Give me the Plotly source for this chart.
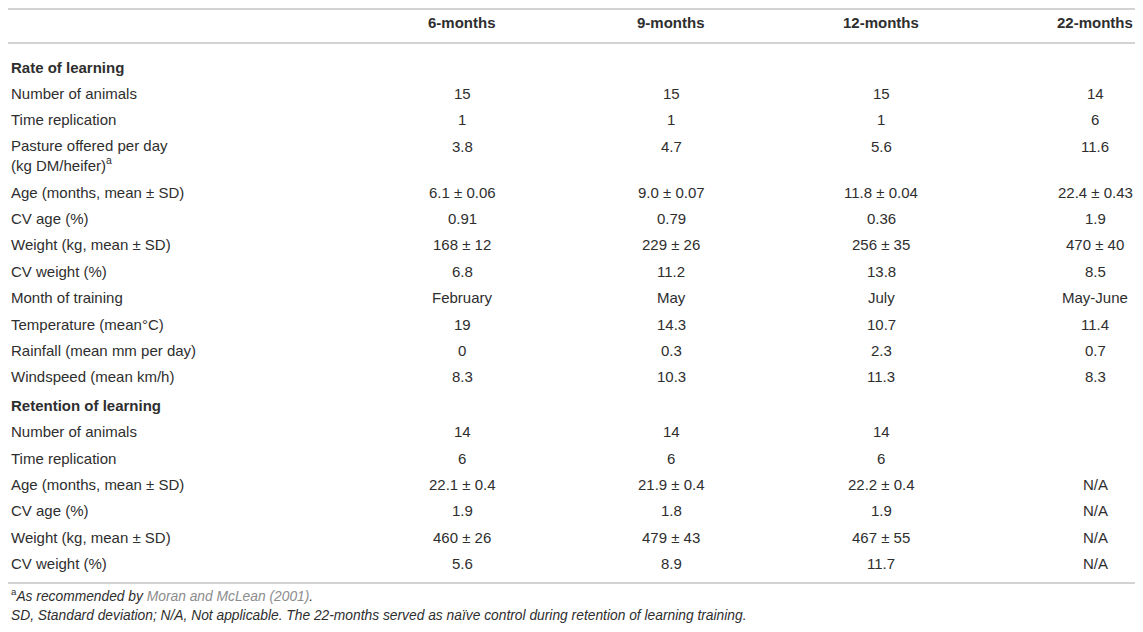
import plotly.graph_objects as go

W, H = 1143, 632
PAGE_MARGIN = 8  # default body margin of the html page

# ---- table data ----
columns = ["6-months", "9-months", "12-months", "22-months"]

rate_labels = [
    "Number of animals",
    "Time replication",
    "Pasture offered per day<br>(kg DM/heifer)<sup>a</sup>",
    "Age (months, mean ± SD)",
    "CV age (%)",
    "Weight (kg, mean ± SD)",
    "CV weight (%)",
    "Month of training",
    "Temperature (mean°C)",
    "Rainfall (mean mm per day)",
    "Windspeed (mean km/h)",
]
rate_6m = ["15", "1", "3.8", "6.1 ± 0.06", "0.91", "168 ± 12", "6.8", "February", "19", "0", "8.3"]
rate_9m = ["15", "1", "4.7", "9.0 ± 0.07", "0.79", "229 ± 26", "11.2", "May", "14.3", "0.3", "10.3"]
rate_12m = ["15", "1", "5.6", "11.8 ± 0.04", "0.36", "256 ± 35", "13.8", "July", "10.7", "2.3", "11.3"]
rate_22m = ["14", "6", "11.6", "22.4 ± 0.43", "1.9", "470 ± 40", "8.5", "May-June", "11.4", "0.7", "8.3"]

retention_labels = [
    "Number of animals",
    "Time replication",
    "Age (months, mean ± SD)",
    "CV age (%)",
    "Weight (kg, mean ± SD)",
    "CV weight (%)",
]
ret_6m = ["14", "6", "22.1 ± 0.4", "1.9", "460 ± 26", "5.6"]
ret_9m = ["14", "6", "21.9 ± 0.4", "1.8", "479 ± 43", "8.9"]
ret_12m = ["14", "6", "22.2 ± 0.4", "1.9", "467 ± 55", "11.7"]
ret_22m = ["", "", "N/A", "N/A", "N/A", "N/A"]

sections = [
    ("Rate of learning", rate_labels, [rate_6m, rate_9m, rate_12m, rate_22m]),
    ("Retention of learning", retention_labels, [ret_6m, ret_9m, ret_12m, ret_22m]),
]

footnote_a = ("<sup>a</sup><i>As recommended by "
              "<span style='color:#8c8c8c'>Moran and McLean (2001)</span>.</i>")
footnote_b = ("<i>SD, Standard deviation; N/A, Not applicable. The 22-months served "
              "as naïve control during retention of learning training.</i>")

# ---- layout constants (page pixels) ----
TEXT = "#2e2e2e"
RULE = "#c4c4c4"
FONT = "Liberation Sans, Arial, sans-serif"
FS = 15
fig_w = W - 2 * PAGE_MARGIN
fig_h = H - 2 * PAGE_MARGIN
x_max = PAGE_MARGIN + fig_w
y_max = PAGE_MARGIN + fig_h

col_x = [462, 671, 881, 1095]
label_x = PAGE_MARGIN + 1
row_h = 26.4
extra_line = 19.5

annotations = []


def add_text(x, y, text, anchor="center", bold=False, size=FS, color=TEXT):
    annotations.append(dict(
        x=x, y=y, xref="x", yref="y", text=f"<b>{text}</b>" if bold else text,
        showarrow=False, xanchor=anchor, yanchor="middle", align=anchor,
        font=dict(family=FONT, size=size, color=color),
    ))


# header
for cx, name in zip(col_x, columns):
    add_text(cx, 22, name, bold=True)

y = 67
for si, (title, labels, cols) in enumerate(sections):
    if si > 0:
        y += 2
    add_text(label_x, y, title, anchor="left", bold=True)
    y += row_h
    for ri, label in enumerate(labels):
        n_lines = label.count("<br>") + 1
        add_text(label_x, y + extra_line * (n_lines - 1) / 2, label, anchor="left")
        for cx, vals in zip(col_x, cols):
            if vals[ri]:
                add_text(cx, y, vals[ri])
        y += row_h + extra_line * (n_lines - 1)

add_text(label_x, 595, footnote_a, anchor="left", size=13.8)
add_text(label_x, 615.5, footnote_b, anchor="left", size=13.8)

rules = [PAGE_MARGIN + 1, 43, 583]
shapes = [
    dict(type="line", xref="x", yref="y", x0=PAGE_MARGIN, x1=x_max, y0=ry, y1=ry,
         line=dict(color=RULE, width=1.6))
    for ry in rules
]

fig = go.Figure()
fig.update_layout(
    width=fig_w, height=fig_h,
    margin=dict(l=0, r=0, t=0, b=0),
    paper_bgcolor="white", plot_bgcolor="white",
    xaxis=dict(range=[PAGE_MARGIN, x_max], visible=False, fixedrange=True),
    yaxis=dict(range=[y_max, PAGE_MARGIN], visible=False, fixedrange=True),
    annotations=annotations,
    shapes=shapes,
    showlegend=False,
)

fig.write_html("out.html")
